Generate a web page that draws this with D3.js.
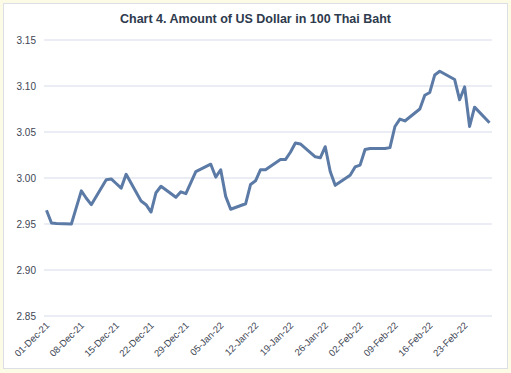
<!DOCTYPE html>
<html>
<head>
<meta charset="utf-8">
<script src="https://cdn.jsdelivr.net/npm/d3@7"></script>
<style>
  html, body { margin: 0; padding: 0; background: #fbfbe6; }
  svg { display: block; }
</style>
</head>
<body>
<svg id="chart" width="511" height="373"></svg>
<script>
// trading days and rates (USD per 100 THB)
var dates = [
  "2021-12-01","2021-12-02","2021-12-03","2021-12-06","2021-12-07","2021-12-08","2021-12-09","2021-12-10",
  "2021-12-13","2021-12-14","2021-12-15","2021-12-16","2021-12-17","2021-12-20","2021-12-21","2021-12-22",
  "2021-12-23","2021-12-24","2021-12-27","2021-12-28","2021-12-29","2021-12-30","2021-12-31",
  "2022-01-03","2022-01-04","2022-01-05","2022-01-06","2022-01-07","2022-01-10","2022-01-11","2022-01-12",
  "2022-01-13","2022-01-14","2022-01-17","2022-01-18","2022-01-19","2022-01-20","2022-01-21","2022-01-24",
  "2022-01-25","2022-01-26","2022-01-27","2022-01-28","2022-01-31",
  "2022-02-01","2022-02-02","2022-02-03","2022-02-04","2022-02-07","2022-02-08","2022-02-09","2022-02-10",
  "2022-02-11","2022-02-14","2022-02-15","2022-02-16","2022-02-17","2022-02-18","2022-02-21","2022-02-22",
  "2022-02-23","2022-02-24","2022-02-25","2022-02-28"
];
var values = [
  2.965, 2.951, 2.9505, 2.950, 2.968, 2.986, 2.978, 2.971,
  2.998, 2.999, 2.994, 2.989, 3.004, 2.975, 2.971, 2.963,
  2.984, 2.991, 2.979, 2.985, 2.983, 2.995, 3.007,
  3.015, 3.001, 3.009, 2.980, 2.966, 2.972, 2.993, 2.997,
  3.009, 3.009, 3.020, 3.020, 3.028, 3.038, 3.037, 3.023,
  3.022, 3.034, 3.007, 2.992, 3.003,
  3.012, 3.014, 3.031, 3.032, 3.032, 3.033, 3.056, 3.064,
  3.062, 3.075, 3.090, 3.093, 3.112, 3.116, 3.107, 3.085,
  3.099, 3.056, 3.077, 3.060
];
var tickDates = ["2021-12-01","2021-12-08","2021-12-15","2021-12-22","2021-12-29","2022-01-05",
  "2022-01-12","2022-01-19","2022-01-26","2022-02-02","2022-02-09","2022-02-16","2022-02-23"];
var yTicks = [2.85, 2.90, 2.95, 3.00, 3.05, 3.10, 3.15];

var title = "Chart 4. Amount of US Dollar in 100 Thai Baht";

var parse = d3.timeParse("%Y-%m-%d");
var fmt = d3.timeFormat("%d-%b-%y");

var data = dates.map(function(d, i){ return { date: parse(d), value: values[i] }; });

var svg = d3.select("#chart");

//* panel
svg.append("rect")
  .attr("x", 3.5).attr("y", 3.5)
  .attr("width", 504).attr("height", 365)
  .attr("fill", "#fff")
  .attr("stroke", "#dcdfe4")
  .attr("stroke-width", 1);

//* scales (half a day padding each side, like a category-slot date axis)
var x = d3.scaleTime()
  .domain([d3.timeHour.offset(parse(dates[0]), -12), d3.timeHour.offset(parse(dates[dates.length-1]), 12)])
  .range([44, 492]);

var y = d3.scaleLinear()
  .domain([2.85, 3.15])
  .range([316, 40]);

//* gridlines
svg.append("g")
  .selectAll("line")
  .data(yTicks)
  .enter().append("line")
  .attr("x1", 44).attr("x2", 492)
  .attr("y1", function(d){ return y(d); })
  .attr("y2", function(d){ return y(d); })
  .attr("stroke", "#e3e8f0")
  .attr("stroke-width", 1.5);

//* y axis labels
var yAxis = d3.axisLeft(y)
  .tickValues(yTicks)
  .tickFormat(d3.format(".2f"))
  .tickSize(0)
  .tickPadding(8);

svg.append("g")
  .attr("transform", "translate(44,0)")
  .call(yAxis)
  .call(function(g){ g.select(".domain").remove(); })
  .selectAll("text")
  .attr("font-family", "'Liberation Sans', Arial, sans-serif")
  .attr("font-size", 10)
  .attr("fill", "#404654");

//* x axis labels
var xAxis = d3.axisBottom(x)
  .tickValues(tickDates.map(parse))
  .tickFormat(fmt)
  .tickSize(0);

svg.append("g")
  .attr("transform", "translate(0,316)")
  .call(xAxis)
  .call(function(g){ g.select(".domain").remove(); })
  .selectAll("text")
  .attr("font-family", "'Liberation Sans', Arial, sans-serif")
  .attr("font-size", 9.5)
  .attr("fill", "#404654")
  .attr("dy", null)
  .attr("y", 0)
  .style("text-anchor", "end")
  .attr("transform", "translate(3,10) rotate(-45)");

//* line
var line = d3.line()
  .x(function(d){ return x(d.date); })
  .y(function(d){ return y(d.value); });

svg.append("path")
  .datum(data)
  .attr("d", line)
  .attr("fill", "none")
  .attr("stroke", "#5b7aa6")
  .attr("stroke-width", 3)
  .attr("stroke-linejoin", "round");

//* title
svg.append("text")
  .attr("x", 255.5)
  .attr("y", 23)
  .attr("font-family", "'Liberation Sans', Arial, sans-serif")
  .attr("font-size", 13.5)
  .attr("font-weight", "bold")
  .attr("fill", "#2e3a4d")
  .attr("textLength", 271)
  .attr("lengthAdjust", "spacingAndGlyphs")
  .style("text-anchor", "middle")
  .text(title);
</script>
</body>
</html>
